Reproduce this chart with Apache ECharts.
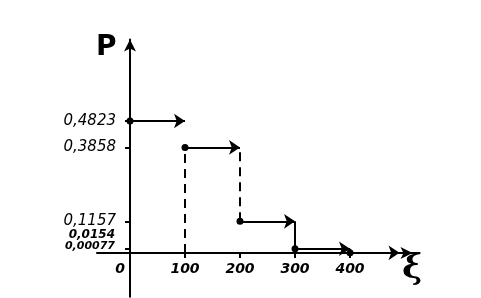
<!DOCTYPE html>
<html><head><meta charset="utf-8">
<script src="https://cdn.jsdelivr.net/npm/echarts@6/dist/echarts.min.js"></script>
<style>html,body{margin:0;padding:0;background:#fff}#c{width:481px;height:298px}</style>
</head><body><div id="c"></div>
<script>
// data
const xValues = [0, 100, 200, 300, 400];
const segmentEnds = [100, 200, 300, 400, 490];
const probs = [0.4823, 0.3858, 0.1157, 0.0154, 0.00077];
const probLabels = ['0,4823', '0,3858', '0,1157', '0,0154', '0,00077'];
const xTickValues = [0, 100, 200, 300, 400];
// vertical connectors: [x, fromP, toP, dashed]
const connX = [100, 200, 300, 400];
const connFrom = [0, 0.1157, 0.0154, 0];
const connTo = [0.3858, 0.3858, 0.1157, 0.0154];
const connDashed = [true, true, false, false];

const chart = echarts.init(document.getElementById('c'), null, {renderer: 'canvas'});
const font = 'DejaVu Sans';
const X_MIN = -60, X_MAX = 510, Y_MIN = -0.16, Y_MAX = 0.78;
const GRID = {left: 97, top: 39.5, width: 313.5, height: 257.3};
// place axes at the zero of the other axis (labels follow the offset axis)
const xOffset = -GRID.height * (0 - Y_MIN) / (Y_MAX - Y_MIN);
const yOffset = -GRID.width * (0 - X_MIN) / (X_MAX - X_MIN);
const stepData = xValues.map((x, i) => ({coords: [[x, probs[i]], [segmentEnds[i], probs[i]]]}));
const connSeries = connX.map((x, i) => ({
  type: 'lines', coordinateSystem: 'cartesian2d', silent: true,
  lineStyle: {color: '#000', width: 2, type: connDashed[i] ? [9, 6] : 'solid', opacity: 1},
  symbol: ['none', 'none'],
  data: [{coords: [[x, connFrom[i]], [x, connTo[i]]]}], z: 1
}));
function nearestLabel(v) {
  let best = 0;
  probs.forEach((p, i) => { if (Math.abs(p - v) < Math.abs(probs[best] - v)) best = i; });
  return probLabels[best];
}
// the two smallest probabilities sit almost on the axis: label them via a point series with lifted labels
const smallLabelStyle = [
  {fontSize: 12, offset: [0, -14]},
  {fontSize: 11, offset: [0, -7]}
];
const smallLabelData = [3, 4].map((i, k) => ({
  value: [0, probs[i]],
  label: {show: true, position: 'left', distance: 14, formatter: probLabels[i],
    fontFamily: font, fontStyle: 'italic', fontWeight: 'bold', fontSize: smallLabelStyle[k].fontSize, color: '#000', opacity: 1, offset: smallLabelStyle[k].offset}
}));
chart.setOption({
  animation: false,
  grid: Object.assign({containLabel: false, outerBoundsMode: 'none'}, GRID),
  xAxis: {
    type: 'value', min: X_MIN, max: X_MAX, offset: xOffset,
    splitLine: {show: false},
    axisLine: {onZero: false, symbol: ['none', 'arrow'], symbolSize: [9, 12], symbolOffset: [0, 2], lineStyle: {color: '#000', width: 2}},
    axisTick: {show: true, customValues: [100, 200, 300, 400], length: 5, lineStyle: {color: '#000', width: 2}},
    axisLabel: {
      customValues: xTickValues, margin: 9, hideOverlap: false, color: '#000', fontFamily: font, fontStyle: 'italic', fontWeight: 'bold', fontSize: 14,
      formatter: v => v === 0 ? '{z|0}' : String(v),
      rich: {z: {padding: [0, 20, 0, 0], fontFamily: font, fontStyle: 'italic', fontWeight: 'bold', fontSize: 14, color: '#000'}}
    }
  },
  yAxis: {
    type: 'value', min: Y_MIN, max: Y_MAX, offset: yOffset,
    splitLine: {show: false},
    axisLine: {onZero: false, symbol: ['none', 'arrow'], symbolSize: [9, 12], lineStyle: {color: '#000', width: 2}},
    axisTick: {show: true, customValues: probs, length: 5, lineStyle: {color: '#000', width: 2}},
    axisLabel: {
      customValues: probs.slice(0, 3), margin: 14, hideOverlap: false, color: '#000', fontFamily: font, fontStyle: 'italic', fontSize: 15,
      formatter: v => nearestLabel(v)
    }
  },
  graphic: [
    {type: 'text', left: 96, top: 34, style: {text: 'P', font: 'bold 28px "DejaVu Sans"', fill: '#000'}},
    {type: 'text', left: 402, top: 252, style: {text: 'ξ', font: 'bold 34px "DejaVu Serif"', fill: '#000'}}
  ],
  series: [
    {
      type: 'lines', coordinateSystem: 'cartesian2d', silent: true,
      symbol: ['circle', 'arrow'], symbolSize: [7, 11],
      lineStyle: {color: '#000', width: 2, opacity: 1},
      data: stepData, z: 3
    },
    ...connSeries,
    {
      type: 'scatter', silent: true, symbol: 'circle', symbolSize: 2,
      itemStyle: {color: 'rgba(0,0,0,0)'},
      data: smallLabelData, z: 4
    }
  ]
});
</script></body></html>
